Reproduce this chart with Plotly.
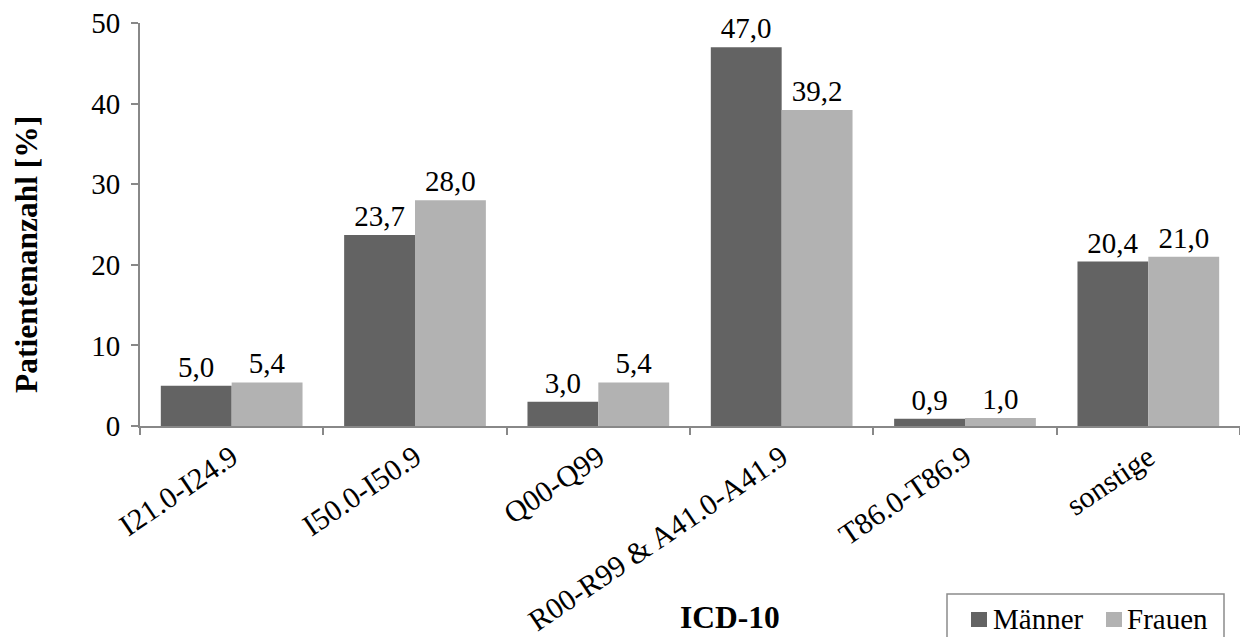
import plotly.graph_objects as go

categories = ["I21.0-I24.9", "I50.0-I50.9", "Q00-Q99", "R00-R99 & A41.0-A41.9", "T86.0-T86.9", "sonstige"]
maenner = [5.0, 23.7, 3.0, 47.0, 0.9, 20.4]
frauen = [5.4, 28.0, 5.4, 39.2, 1.0, 21.0]
series_names = ["Männer", "Frauen"]
colors = ["#636363", "#b2b2b2"]
y_ticks = [0, 10, 20, 30, 40, 50]

FONT = "Liberation Serif, Times New Roman, serif"
FS = 29
XFS = 30
TFS = 31.5
AXC = "#888888"

W, H = 1240, 637
L, R, T, B = 140, 0, 23, 211
PW, PH = W - L - R, H - T - B

def px_x(px):
    return (px - L) / PW

def px_y(py):
    return (H - B - py) / PH

def fmt(v):
    return f"{v:.1f}".replace(".", ",")

fig = go.Figure()
for name, vals, col in zip(series_names, [maenner, frauen], colors):
    fig.add_trace(go.Bar(x=categories, y=vals, name=name, marker_color=col, marker_line_width=0,
                         text=[fmt(v) for v in vals], textposition="outside",
                         textfont=dict(family=FONT, size=FS, color="black"), cliponaxis=False,
                         showlegend=False))

shapes = [dict(type="rect", xref="paper", yref="paper",
               x0=px_x(947), x1=px_x(1224), y0=px_y(594), y1=px_y(680),
               line=dict(color="#8c8c8c", width=1.5), fillcolor="white", layer="above")]
annotations = [
    dict(text="<b>ICD-10</b>", xref="paper", yref="paper", x=px_x(730), y=px_y(617),
         xanchor="center", yanchor="middle", showarrow=False,
         font=dict(family=FONT, size=TFS, color="black")),
    dict(text="<b>Patientenanzahl [%]</b>", xref="paper", yref="paper", x=px_x(26), y=px_y(255),
         xanchor="center", yanchor="middle", showarrow=False, textangle=-90,
         font=dict(family=FONT, size=TFS, color="black")),
]
sq_x = [971, 1106]
txt_x = [991, 1125]
for name, col, sx, tx in zip(series_names, colors, sq_x, txt_x):
    shapes.append(dict(type="rect", xref="paper", yref="paper",
                       x0=px_x(sx), x1=px_x(sx + 16), y0=px_y(612), y1=px_y(627),
                       line=dict(width=0), fillcolor=col, layer="above"))
    annotations.append(dict(text=name, xref="paper", yref="paper", x=px_x(tx), y=px_y(619),
                            xanchor="left", yanchor="middle", showarrow=False,
                            font=dict(family=FONT, size=FS, color="black")))

fig.update_layout(
    width=W, height=H,
    margin=dict(l=L, r=R, t=T, b=B, autoexpand=False),
    paper_bgcolor="white", plot_bgcolor="white",
    barmode="group", bargap=0.227, bargroupgap=0,
    font=dict(family=FONT, size=FS, color="black"),
    showlegend=False,
    shapes=shapes, annotations=annotations,
    xaxis=dict(
        showline=True, linecolor=AXC, linewidth=2,
        ticks="outside", tickson="boundaries", ticklen=7, tickcolor=AXC, tickwidth=2,
        tickangle=-34, tickfont=dict(family=FONT, size=XFS, color="black"),
        showgrid=False,
    ),
    yaxis=dict(
        range=[0, 50], tickvals=y_ticks, showline=True, linecolor=AXC, linewidth=2,
        ticks="outside", ticklen=7, tickcolor=AXC, tickwidth=2, ticklabelstandoff=5,
        tickfont=dict(family=FONT, size=FS, color="black"),
        showgrid=False, zeroline=False,
    ),
)
fig.write_html("out.html")
